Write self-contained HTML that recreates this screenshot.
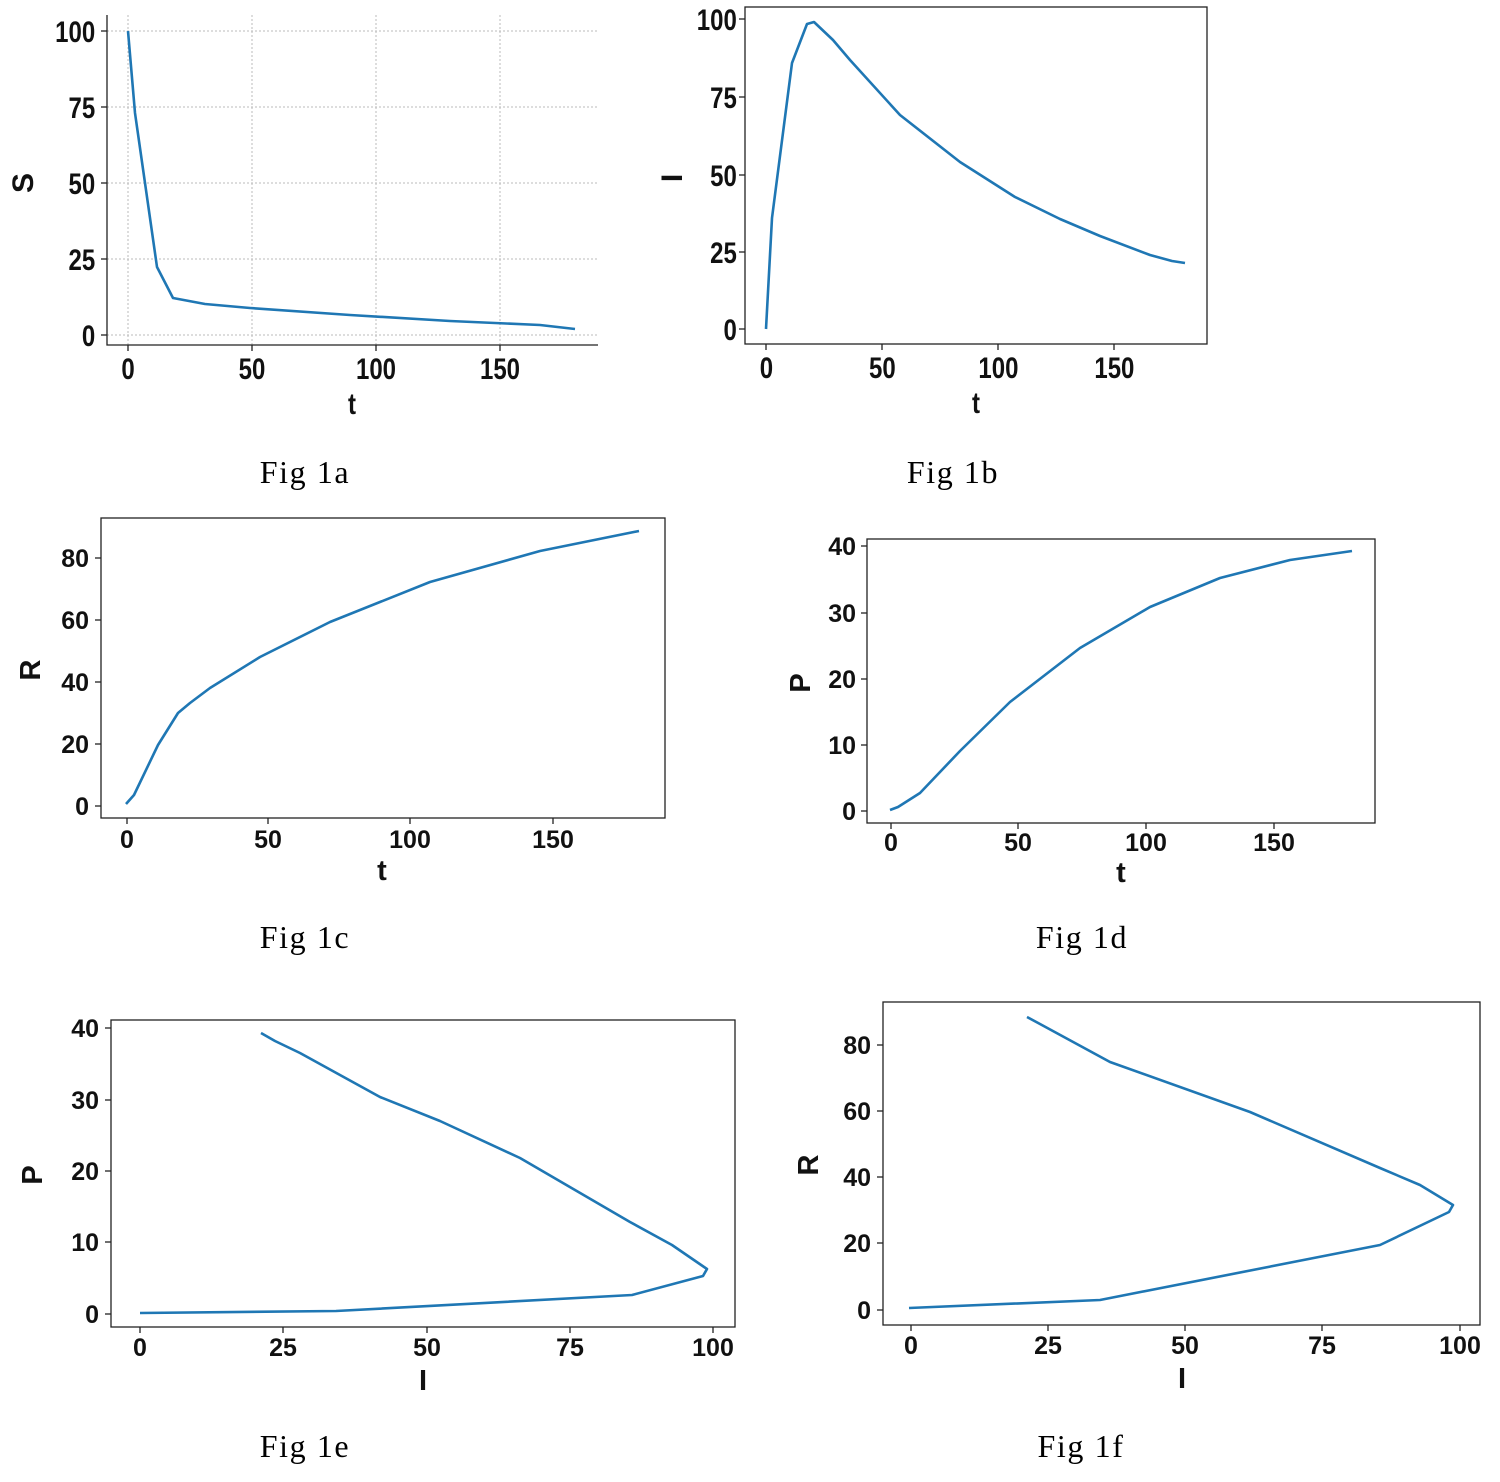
<!DOCTYPE html>
<html><head><style>
html,body{margin:0;padding:0;background:#fff;}
svg{display:block;}
.n{font-family:"Liberation Sans",sans-serif;font-weight:bold;font-size:30px;fill:#111;}
.w{font-family:"Liberation Sans",sans-serif;font-weight:bold;font-size:25px;fill:#111;}
.lab{font-size:29px;}
.cap{font-family:"Liberation Serif",serif;font-size:32px;fill:#000;letter-spacing:1.6px;}
.ln{fill:none;stroke:#1f77b4;stroke-width:2.6;stroke-linejoin:round;}
.ax{fill:none;stroke:#222;stroke-width:1.3;}
.g{stroke:#bbb;stroke-width:1;stroke-dasharray:2,2;}
</style></head><body>
<svg width="1500" height="1482" viewBox="0 0 1500 1482" xmlns="http://www.w3.org/2000/svg">
<!-- Fig 1a -->
<g>
<line class="g" x1="128" y1="15" x2="128" y2="345"/><line class="g" x1="252" y1="15" x2="252" y2="345"/><line class="g" x1="376" y1="15" x2="376" y2="345"/><line class="g" x1="500" y1="15" x2="500" y2="345"/>
<line class="g" x1="107" y1="31" x2="598" y2="31"/><line class="g" x1="107" y1="107" x2="598" y2="107"/><line class="g" x1="107" y1="183" x2="598" y2="183"/><line class="g" x1="107" y1="259" x2="598" y2="259"/><line class="g" x1="107" y1="335" x2="598" y2="335"/>
<polyline class="ax" points="107,15 107,345 598,345"/>
<g stroke="#222" stroke-width="1.3"><line x1="101" y1="31" x2="107" y2="31"/><line x1="101" y1="107" x2="107" y2="107"/><line x1="101" y1="183" x2="107" y2="183"/><line x1="101" y1="259" x2="107" y2="259"/><line x1="101" y1="335" x2="107" y2="335"/>
<line x1="128" y1="345" x2="128" y2="351"/><line x1="252" y1="345" x2="252" y2="351"/><line x1="376" y1="345" x2="376" y2="351"/><line x1="500" y1="345" x2="500" y2="351"/></g>
<g class="n" text-anchor="end" transform="scale(0.8,1)"><text x="119" y="42">100</text><text x="119" y="118">75</text><text x="119" y="194">50</text><text x="119" y="270">25</text><text x="119" y="346">0</text></g>
<g class="n" text-anchor="middle" transform="scale(0.8,1)"><text x="160" y="379">0</text><text x="315" y="379">50</text><text x="470" y="379">100</text><text x="625" y="379">150</text><text x="440" y="414">t</text></g>
<text class="n" transform="translate(33,183) rotate(-90)" text-anchor="middle">S</text>
<polyline class="ln" points="128,31 135,113 157,267 173,298 205,304 250,308 350,315 450,321 540,325 575,329"/>
</g>
<!-- Fig 1b -->
<g>
<rect class="ax" x="745" y="7" width="462" height="337"/>
<g stroke="#222" stroke-width="1.3"><line x1="739" y1="19" x2="745" y2="19"/><line x1="739" y1="97" x2="745" y2="97"/><line x1="739" y1="175" x2="745" y2="175"/><line x1="739" y1="252" x2="745" y2="252"/><line x1="739" y1="329" x2="745" y2="329"/>
<line x1="766" y1="344" x2="766" y2="350"/><line x1="882" y1="344" x2="882" y2="350"/><line x1="998" y1="344" x2="998" y2="350"/><line x1="1114" y1="344" x2="1114" y2="350"/></g>
<g class="n" text-anchor="end" transform="scale(0.8,1)"><text x="921" y="30">100</text><text x="921" y="108">75</text><text x="921" y="186">50</text><text x="921" y="263">25</text><text x="921" y="340">0</text></g>
<g class="n" text-anchor="middle" transform="scale(0.8,1)"><text x="958" y="378">0</text><text x="1103" y="378">50</text><text x="1248" y="378">100</text><text x="1393" y="378">150</text><text x="1220" y="413">t</text></g>
<text class="n" transform="translate(682,178) rotate(-90)" text-anchor="middle">I</text>
<polyline class="ln" points="766,329 772,218 792,63 807,24 814,22 833,40 850,60 900,115 960,162 1015,197 1060,219 1100,236 1150,255 1172,261 1185,263"/>
</g>
<!-- Fig 1c -->
<g>
<rect class="ax" x="101" y="518" width="564" height="300"/>
<g stroke="#222" stroke-width="1.3"><line x1="95" y1="558" x2="101" y2="558"/><line x1="95" y1="620" x2="101" y2="620"/><line x1="95" y1="682" x2="101" y2="682"/><line x1="95" y1="744" x2="101" y2="744"/><line x1="95" y1="806" x2="101" y2="806"/>
<line x1="127" y1="818" x2="127" y2="824"/><line x1="268" y1="818" x2="268" y2="824"/><line x1="410" y1="818" x2="410" y2="824"/><line x1="553" y1="818" x2="553" y2="824"/></g>
<g class="w" text-anchor="end"><text x="89" y="567">80</text><text x="89" y="629">60</text><text x="89" y="691">40</text><text x="89" y="753">20</text><text x="89" y="815">0</text></g>
<g class="w" text-anchor="middle"><text x="127" y="848">0</text><text x="268" y="848">50</text><text x="410" y="848">100</text><text x="553" y="848">150</text><text class="lab" x="382" y="880">t</text></g>
<text class="w lab" transform="translate(40,670) rotate(-90)" text-anchor="middle">R</text>
<polyline class="ln" points="126,804 134,795 158,745 178,713 190,703 210,688 260,657 330,622 430,582 540,551 639,531"/>
</g>
<!-- Fig 1d -->
<g>
<rect class="ax" x="867" y="539" width="508" height="284"/>
<g stroke="#222" stroke-width="1.3"><line x1="861" y1="546" x2="867" y2="546"/><line x1="861" y1="613" x2="867" y2="613"/><line x1="861" y1="679" x2="867" y2="679"/><line x1="861" y1="745" x2="867" y2="745"/><line x1="861" y1="811" x2="867" y2="811"/>
<line x1="891" y1="823" x2="891" y2="829"/><line x1="1018" y1="823" x2="1018" y2="829"/><line x1="1146" y1="823" x2="1146" y2="829"/><line x1="1274" y1="823" x2="1274" y2="829"/></g>
<g class="w" text-anchor="end"><text x="856" y="555">40</text><text x="856" y="622">30</text><text x="856" y="688">20</text><text x="856" y="754">10</text><text x="856" y="820">0</text></g>
<g class="w" text-anchor="middle"><text x="891" y="851">0</text><text x="1018" y="851">50</text><text x="1146" y="851">100</text><text x="1274" y="851">150</text><text class="lab" x="1121" y="882">t</text></g>
<text class="w lab" transform="translate(810,683) rotate(-90)" text-anchor="middle">P</text>
<polyline class="ln" points="890,810 898,807 920,793 960,751 1010,702 1080,648 1150,607 1220,578 1290,560 1352,551"/>
</g>
<!-- Fig 1e -->
<g>
<rect class="ax" x="111" y="1020" width="624" height="307"/>
<g stroke="#222" stroke-width="1.3"><line x1="105" y1="1028" x2="111" y2="1028"/><line x1="105" y1="1100" x2="111" y2="1100"/><line x1="105" y1="1171" x2="111" y2="1171"/><line x1="105" y1="1242" x2="111" y2="1242"/><line x1="105" y1="1314" x2="111" y2="1314"/>
<line x1="140" y1="1327" x2="140" y2="1333"/><line x1="283" y1="1327" x2="283" y2="1333"/><line x1="427" y1="1327" x2="427" y2="1333"/><line x1="570" y1="1327" x2="570" y2="1333"/><line x1="713" y1="1327" x2="713" y2="1333"/></g>
<g class="w" text-anchor="end"><text x="99" y="1037">40</text><text x="99" y="1109">30</text><text x="99" y="1180">20</text><text x="99" y="1251">10</text><text x="99" y="1323">0</text></g>
<g class="w" text-anchor="middle"><text x="140" y="1356">0</text><text x="283" y="1356">25</text><text x="427" y="1356">50</text><text x="570" y="1356">75</text><text x="713" y="1356">100</text><text class="lab" x="423" y="1390">I</text></g>
<text class="w lab" transform="translate(42,1175) rotate(-90)" text-anchor="middle">P</text>
<polyline class="ln" points="140,1313 336,1311 632,1295 703,1276 707,1269 672,1245 630,1222 520,1158 440,1121 380,1097 300,1053 275,1041 261,1033"/>
</g>
<!-- Fig 1f -->
<g>
<rect class="ax" x="883" y="1002" width="597" height="323"/>
<g stroke="#222" stroke-width="1.3"><line x1="877" y1="1045" x2="883" y2="1045"/><line x1="877" y1="1111" x2="883" y2="1111"/><line x1="877" y1="1177" x2="883" y2="1177"/><line x1="877" y1="1243" x2="883" y2="1243"/><line x1="877" y1="1310" x2="883" y2="1310"/>
<line x1="911" y1="1325" x2="911" y2="1331"/><line x1="1048" y1="1325" x2="1048" y2="1331"/><line x1="1185" y1="1325" x2="1185" y2="1331"/><line x1="1322" y1="1325" x2="1322" y2="1331"/><line x1="1460" y1="1325" x2="1460" y2="1331"/></g>
<g class="w" text-anchor="end"><text x="871" y="1054">80</text><text x="871" y="1120">60</text><text x="871" y="1186">40</text><text x="871" y="1252">20</text><text x="871" y="1319">0</text></g>
<g class="w" text-anchor="middle"><text x="911" y="1354">0</text><text x="1048" y="1354">25</text><text x="1185" y="1354">50</text><text x="1322" y="1354">75</text><text x="1460" y="1354">100</text><text class="lab" x="1182" y="1388">I</text></g>
<text class="w lab" transform="translate(818,1165) rotate(-90)" text-anchor="middle">R</text>
<polyline class="ln" points="909,1308 1100,1300 1380,1245 1449,1212 1453,1205 1420,1185 1380,1168 1250,1112 1110,1062 1040,1024 1027,1017"/>
</g>
<!-- captions -->
<g class="cap" text-anchor="middle">
<text x="305" y="483">Fig 1a</text><text x="953" y="483">Fig 1b</text>
<text x="305" y="948">Fig 1c</text><text x="1082" y="948">Fig 1d</text>
<text x="305" y="1457">Fig 1e</text><text x="1081" y="1457">Fig 1f</text>
</g>
</svg>
</body></html>
